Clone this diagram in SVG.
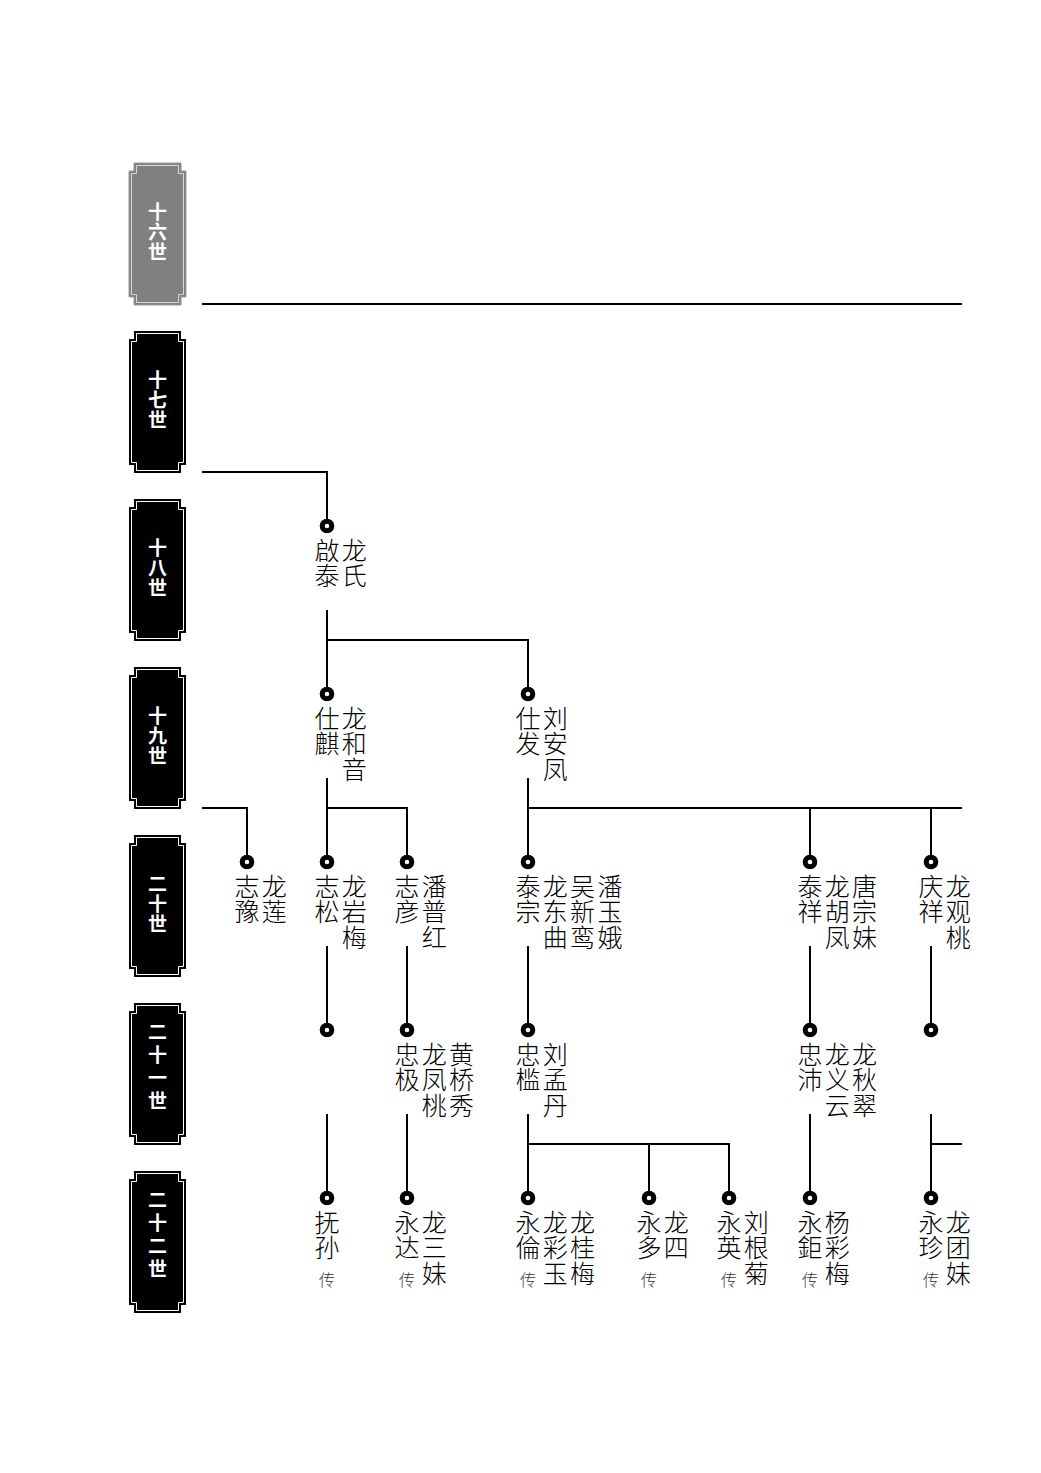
<svg xmlns="http://www.w3.org/2000/svg" width="1041" height="1473" viewBox="0 0 1041 1473">
<style>
.bg{fill:#ffffff}
.box{fill:#000}
.boxin{fill:none;stroke:#fff;stroke-width:1}
.gl{font-family:"Noto Sans CJK SC","Noto Sans",sans-serif;font-size:19px;font-weight:bold;fill:#fff;text-anchor:middle}
.ln{fill:none;stroke:#000;stroke-width:2}
.dot{fill:#fff;stroke:#000;stroke-width:5}
.nm{font-family:"Noto Sans CJK SC","Noto Sans",sans-serif;font-size:25px;font-weight:300;fill:#000;text-anchor:middle}
.cz{font-family:"Noto Sans CJK SC","Noto Sans",sans-serif;font-size:16px;font-weight:300;fill:#333;text-anchor:middle}
</style>
<rect class="bg" x="0" y="0" width="1041" height="1473"/>
<g id="generations">
  <g id="gen16">
    <path d="M134,163 H181 V171 H186 V297 H181 V305 H134 V297 H129 V171 H134 Z" fill="#808080" stroke="#9a9a9a" stroke-width="1"/>
    <path d="M136.5,165.5 H178.5 V173.5 H183.5 V294.5 H178.5 V302.5 H136.5 V294.5 H131.5 V173.5 H136.5 Z" fill="none" stroke="#d8d8d8" stroke-width="1"/>
    <text class="gl" x="157.5 157.5 157.5" y="219 239 259">十六世</text>
  </g>
  <g id="gen17">
    <path class="box" d="M134,331 H181 V339 H186 V465 H181 V473 H134 V465 H129 V339 H134 Z"/>
    <path class="boxin" d="M136.5,333.5 H178.5 V341.5 H183.5 V462.5 H178.5 V470.5 H136.5 V462.5 H131.5 V341.5 H136.5 Z"/>
    <text class="gl" x="157.5 157.5 157.5" y="387 407 427">十七世</text>
  </g>
  <g id="gen18">
    <path class="box" d="M134,499 H181 V507 H186 V633 H181 V641 H134 V633 H129 V507 H134 Z"/>
    <path class="boxin" d="M136.5,501.5 H178.5 V509.5 H183.5 V630.5 H178.5 V638.5 H136.5 V630.5 H131.5 V509.5 H136.5 Z"/>
    <text class="gl" x="157.5 157.5 157.5" y="555 575 595">十八世</text>
  </g>
  <g id="gen19">
    <path class="box" d="M134,667 H181 V675 H186 V801 H181 V809 H134 V801 H129 V675 H134 Z"/>
    <path class="boxin" d="M136.5,669.5 H178.5 V677.5 H183.5 V798.5 H178.5 V806.5 H136.5 V798.5 H131.5 V677.5 H136.5 Z"/>
    <text class="gl" x="157.5 157.5 157.5" y="723 743 763">十九世</text>
  </g>
  <g id="gen20">
    <path class="box" d="M134,835 H181 V843 H186 V969 H181 V977 H134 V969 H129 V843 H134 Z"/>
    <path class="boxin" d="M136.5,837.5 H178.5 V845.5 H183.5 V966.5 H178.5 V974.5 H136.5 V966.5 H131.5 V845.5 H136.5 Z"/>
    <text class="gl" x="157.5 157.5 157.5" y="891 911 931">二十世</text>
  </g>
  <g id="gen21">
    <path class="box" d="M134,1003 H181 V1011 H186 V1137 H181 V1145 H134 V1137 H129 V1011 H134 Z"/>
    <path class="boxin" d="M136.5,1005.5 H178.5 V1013.5 H183.5 V1134.5 H178.5 V1142.5 H136.5 V1134.5 H131.5 V1013.5 H136.5 Z"/>
    <text class="gl" x="157.5 157.5 157.5 157.5" y="1038.5 1061.5 1084.5 1107.5">二十一世</text>
  </g>
  <g id="gen22">
    <path class="box" d="M134,1171 H181 V1179 H186 V1305 H181 V1313 H134 V1305 H129 V1179 H134 Z"/>
    <path class="boxin" d="M136.5,1173.5 H178.5 V1181.5 H183.5 V1302.5 H178.5 V1310.5 H136.5 V1302.5 H131.5 V1181.5 H136.5 Z"/>
    <text class="gl" x="157.5 157.5 157.5 157.5" y="1206.5 1229.5 1252.5 1275.5">二十二世</text>
  </g>
</g>
<g id="connectors">
  <path class="ln" d="M202,304 H962"/>
  <path class="ln" d="M202,472 H327 V526"/>
  <path class="ln" d="M327,610 V694 M327,640 H528 V694"/>
  <path class="ln" d="M327,778 V862 M327,808 H407 V862"/>
  <path class="ln" d="M202,808 H247 V862"/>
  <path class="ln" d="M528,778 V862 M528,808 H962 M810,808 V862 M931,808 V862"/>
  <path class="ln" d="M327,946 V1030 M407,946 V1030 M528,946 V1030 M810,946 V1030 M931,946 V1030"/>
  <path class="ln" d="M327,1114 V1198 M407,1114 V1198 M528,1114 V1198 M528,1144 H729 V1198 M649,1144 V1198 M810,1114 V1198 M931,1114 V1198 M931,1144 H962"/>
</g>
<g id="n18a">
  <circle class="dot" cx="327" cy="526" r="4.8"/>
  <text class="nm" x="327 327" y="559.5 585">啟泰</text>
  <text class="nm" x="354.3 354.3" y="559.5 585">龙氏</text>
</g>
<g id="n19a">
  <circle class="dot" cx="327" cy="694" r="4.8"/>
  <text class="nm" x="327 327" y="727.5 753">仕麒</text>
  <text class="nm" x="354.3 354.3 354.3" y="727.5 753 778.5">龙和音</text>
</g>
<g id="n19b">
  <circle class="dot" cx="528" cy="694" r="4.8"/>
  <text class="nm" x="528 528" y="727.5 753">仕发</text>
  <text class="nm" x="555.3 555.3 555.3" y="727.5 753 778.5">刘安凤</text>
</g>
<g id="n20a">
  <circle class="dot" cx="247" cy="862" r="4.8"/>
  <text class="nm" x="247 247" y="895.5 921">志豫</text>
  <text class="nm" x="274.3 274.3" y="895.5 921">龙莲</text>
</g>
<g id="n20b">
  <circle class="dot" cx="327" cy="862" r="4.8"/>
  <text class="nm" x="327 327" y="895.5 921">志松</text>
  <text class="nm" x="354.3 354.3 354.3" y="895.5 921 946.5">龙岩梅</text>
</g>
<g id="n20c">
  <circle class="dot" cx="407" cy="862" r="4.8"/>
  <text class="nm" x="407 407" y="895.5 921">志彦</text>
  <text class="nm" x="434.3 434.3 434.3" y="895.5 921 946.5">潘普红</text>
</g>
<g id="n20d">
  <circle class="dot" cx="528" cy="862" r="4.8"/>
  <text class="nm" x="528 528" y="895.5 921">泰宗</text>
  <text class="nm" x="555.3 555.3 555.3" y="895.5 921 946.5">龙东曲</text>
  <text class="nm" x="582.6 582.6 582.6" y="895.5 921 946.5">吴新鸾</text>
  <text class="nm" x="609.9 609.9 609.9" y="895.5 921 946.5">潘玉娥</text>
</g>
<g id="n20e">
  <circle class="dot" cx="810" cy="862" r="4.8"/>
  <text class="nm" x="810 810" y="895.5 921">泰祥</text>
  <text class="nm" x="837.3 837.3 837.3" y="895.5 921 946.5">龙胡凤</text>
  <text class="nm" x="864.6 864.6 864.6" y="895.5 921 946.5">唐宗妹</text>
</g>
<g id="n20f">
  <circle class="dot" cx="931" cy="862" r="4.8"/>
  <text class="nm" x="931 931" y="895.5 921">庆祥</text>
  <text class="nm" x="958.3 958.3 958.3" y="895.5 921 946.5">龙观桃</text>
</g>
<g id="n21a">
  <circle class="dot" cx="327" cy="1030" r="4.8"/>
</g>
<g id="n21b">
  <circle class="dot" cx="407" cy="1030" r="4.8"/>
  <text class="nm" x="407 407" y="1063.5 1089">忠极</text>
  <text class="nm" x="434.3 434.3 434.3" y="1063.5 1089 1114.5">龙凤桃</text>
  <text class="nm" x="461.6 461.6 461.6" y="1063.5 1089 1114.5">黄桥秀</text>
</g>
<g id="n21c">
  <circle class="dot" cx="528" cy="1030" r="4.8"/>
  <text class="nm" x="528 528" y="1063.5 1089">忠槛</text>
  <text class="nm" x="555.3 555.3 555.3" y="1063.5 1089 1114.5">刘孟丹</text>
</g>
<g id="n21d">
  <circle class="dot" cx="810" cy="1030" r="4.8"/>
  <text class="nm" x="810 810" y="1063.5 1089">忠沛</text>
  <text class="nm" x="837.3 837.3 837.3" y="1063.5 1089 1114.5">龙义云</text>
  <text class="nm" x="864.6 864.6 864.6" y="1063.5 1089 1114.5">龙秋翠</text>
</g>
<g id="n21e">
  <circle class="dot" cx="931" cy="1030" r="4.8"/>
</g>
<g id="n22a">
  <circle class="dot" cx="327" cy="1198" r="4.8"/>
  <text class="nm" x="327 327" y="1231.5 1257">抚孙</text>
  <text class="cz" x="327" y="1286">传</text>
</g>
<g id="n22b">
  <circle class="dot" cx="407" cy="1198" r="4.8"/>
  <text class="nm" x="407 407" y="1231.5 1257">永达</text>
  <text class="cz" x="407" y="1286">传</text>
  <text class="nm" x="434.3 434.3 434.3" y="1231.5 1257 1282.5">龙三妹</text>
</g>
<g id="n22c">
  <circle class="dot" cx="528" cy="1198" r="4.8"/>
  <text class="nm" x="528 528" y="1231.5 1257">永倫</text>
  <text class="cz" x="528" y="1286">传</text>
  <text class="nm" x="555.3 555.3 555.3" y="1231.5 1257 1282.5">龙彩玉</text>
  <text class="nm" x="582.6 582.6 582.6" y="1231.5 1257 1282.5">龙桂梅</text>
</g>
<g id="n22d">
  <circle class="dot" cx="649" cy="1198" r="4.8"/>
  <text class="nm" x="649 649" y="1231.5 1257">永多</text>
  <text class="cz" x="649" y="1286">传</text>
  <text class="nm" x="676.3 676.3" y="1231.5 1257">龙四</text>
</g>
<g id="n22e">
  <circle class="dot" cx="729" cy="1198" r="4.8"/>
  <text class="nm" x="729 729" y="1231.5 1257">永英</text>
  <text class="cz" x="729" y="1286">传</text>
  <text class="nm" x="756.3 756.3 756.3" y="1231.5 1257 1282.5">刘根菊</text>
</g>
<g id="n22f">
  <circle class="dot" cx="810" cy="1198" r="4.8"/>
  <text class="nm" x="810 810" y="1231.5 1257">永鉅</text>
  <text class="cz" x="810" y="1286">传</text>
  <text class="nm" x="837.3 837.3 837.3" y="1231.5 1257 1282.5">杨彩梅</text>
</g>
<g id="n22g">
  <circle class="dot" cx="931" cy="1198" r="4.8"/>
  <text class="nm" x="931 931" y="1231.5 1257">永珍</text>
  <text class="cz" x="931" y="1286">传</text>
  <text class="nm" x="958.3 958.3 958.3" y="1231.5 1257 1282.5">龙团妹</text>
</g>
</svg>
